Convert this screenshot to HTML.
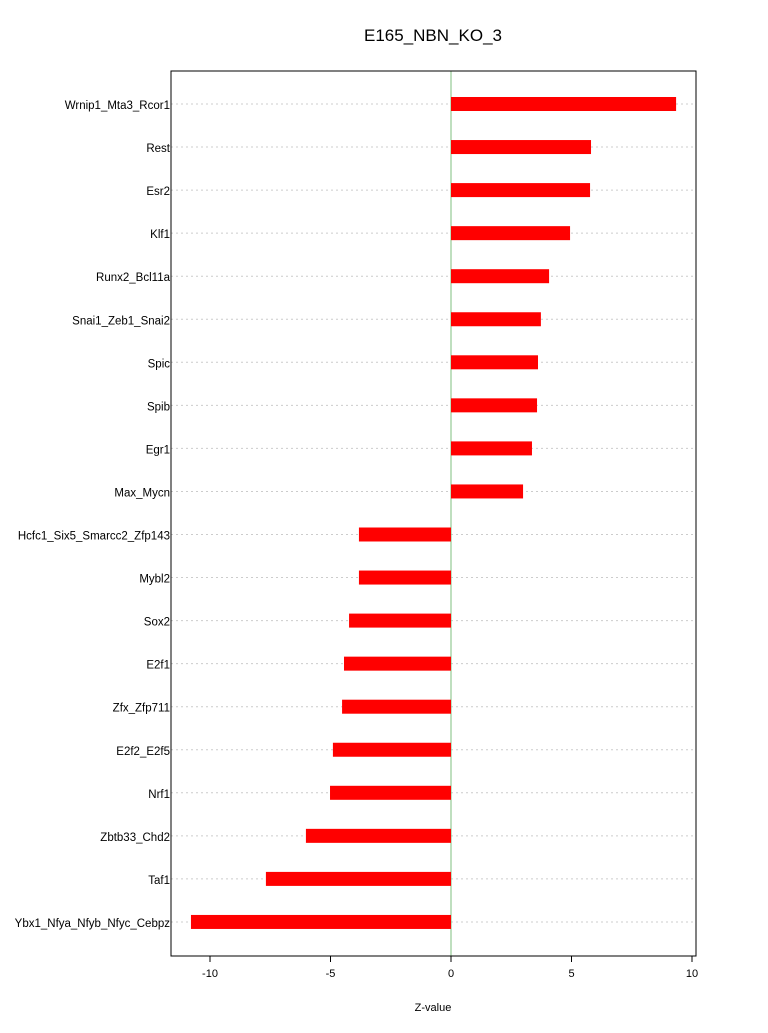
<!DOCTYPE html>
<html><head><meta charset="utf-8"><style>
body{margin:0;background:#fff;font-family:"Liberation Sans",sans-serif;}
svg text{font-family:"Liberation Sans",sans-serif;}
</style></head><body>
<svg id="chart" width="768" height="1028" xmlns="http://www.w3.org/2000/svg">
<rect width="768" height="1028" fill="#fff"/>
<text x="433" y="41" font-size="17" text-anchor="middle">E165_NBN_KO_3</text>
<g id="grid"></g><g id="bars"></g><g id="ylabels"></g><g id="xticks"></g>
<rect x="171" y="71" width="525" height="885" fill="none" stroke="#000" stroke-width="1"/>
<text x="433" y="1011" font-size="11" text-anchor="middle">Z-value</text>
</svg>
<script>
const categories=["Wrnip1_Mta3_Rcor1","Rest","Esr2","Klf1","Runx2_Bcl11a","Snai1_Zeb1_Snai2","Spic","Spib","Egr1","Max_Mycn","Hcfc1_Six5_Smarcc2_Zfp143","Mybl2","Sox2","E2f1","Zfx_Zfp711","E2f2_E2f5","Nrf1","Zbtb33_Chd2","Taf1","Ybx1_Nfya_Nfyb_Nfyc_Cebpz"];
const values=[9.34,5.81,5.77,4.94,4.07,3.73,3.61,3.57,3.36,2.99,-3.82,-3.82,-4.23,-4.44,-4.52,-4.9,-5.02,-6.02,-7.68,-10.79];
const ticks=[-10,-5,0,5,10];
const NS="http://www.w3.org/2000/svg";
const xs=v=>451+v*24.1;
const ys=i=>104+i*43.05;
function mk(tag,attrs,parent){const e=document.createElementNS(NS,tag);for(const k in attrs)e.setAttribute(k,attrs[k]);document.getElementById(parent).appendChild(e);return e;}
categories.forEach((c,i)=>{
  const g=mk('line',{x1:171,x2:696,y1:ys(i),y2:ys(i),stroke:'#ccc','stroke-dasharray':'2,3'},'grid');
  
  
  const v=values[i];
  const b=mk('rect',{x:Math.min(xs(0),xs(v)),y:ys(i)-7,width:Math.abs(xs(v)-xs(0)),height:14,fill:'#ff0000'},'bars');
  
  
  const t=mk('text',{x:170,y:ys(i)+5,'font-size':11.5,'text-anchor':'end'},'ylabels');
  t.textContent=c;
  
  
});
const zl=mk('line',{x1:xs(0),x2:xs(0),y1:71,y2:956,stroke:'#7fbf7f'},'grid');


const ax=mk('line',{x1:xs(ticks[0]),x2:xs(ticks[ticks.length-1]),y1:956,y2:956,stroke:'#000'},'xticks');


ticks.forEach(t=>{
  const l=mk('line',{x1:xs(t),x2:xs(t),y1:956,y2:962,stroke:'#000'},'xticks');
  
  
  const tx=mk('text',{x:xs(t),y:977,'font-size':11,'text-anchor':'middle'},'xticks');
  tx.textContent=t;
  
  
});
</script>
</body></html>
